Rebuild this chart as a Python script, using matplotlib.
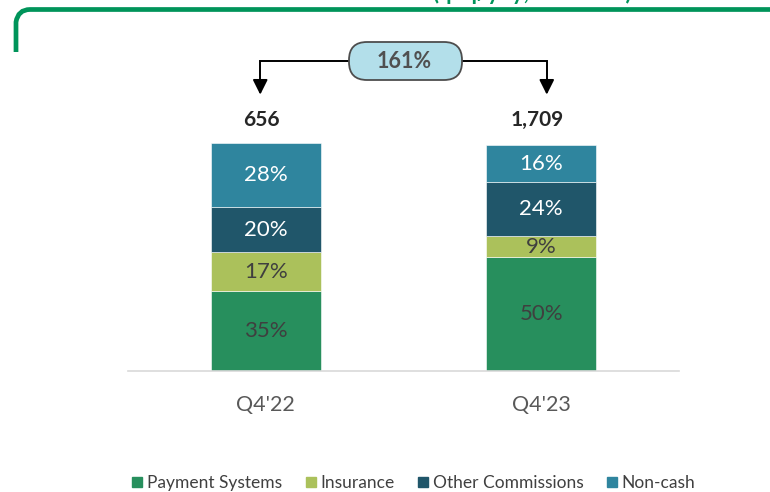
import matplotlib
matplotlib.use("Agg")
import matplotlib.pyplot as plt
from matplotlib.lines import Line2D
from matplotlib.path import Path
from matplotlib.patches import PathPatch, FancyBboxPatch

plt.rcParams['font.family'] = ['Lato', 'DejaVu Sans']

# data
periods = ["Q4'22", "Q4'23"]
totals = ["656", "1,709"]
growth = "161%"
segments = ["Payment Systems", "Insurance", "Other Commissions", "Non-cash"]
shares = {
    "Payment Systems": [35, 50],
    "Insurance": [17, 9],
    "Other Commissions": [20, 24],
    "Non-cash": [28, 16],
}
colors = {
    "Payment Systems": "#278f5d",
    "Insurance": "#abc15b",
    "Other Commissions": "#20566a",
    "Non-cash": "#2f859e",
}
label_colors = {
    "Payment Systems": "#3f3f3f",
    "Insurance": "#3f3f3f",
    "Other Commissions": "#ffffff",
    "Non-cash": "#ffffff",
}

fig = plt.figure(figsize=(7.7, 4.92), dpi=100)
ax = fig.add_axes([128 / 770, 1 - 371 / 492, 551 / 770, 228 / 492])

x = list(range(len(periods)))
bottom = [0] * len(periods)
for seg in segments:
    vals = shares[seg]
    ax.bar(x, vals, width=0.40, bottom=bottom, color=colors[seg],
           edgecolor="white", linewidth=0.4, label=seg)
    for i, v in enumerate(vals):
        ax.text(x[i], bottom[i] + v / 2, f"{v}%", ha="center", va="center",
                fontsize=16, color=label_colors[seg])
    bottom = [b + v for b, v in zip(bottom, vals)]

ax.set_xlim(-0.5, 1.5)
ax.set_ylim(0, 100)
for s in ["top", "right", "left"]:
    ax.spines[s].set_visible(False)
ax.spines["bottom"].set_color("#d9d9d9")
ax.spines["bottom"].set_linewidth(1.2)
ax.set_yticks([])
ax.set_xticks(x)
ax.set_xticklabels(periods, fontsize=15.5, color="#595959")
ax.tick_params(axis="x", length=0, pad=17)

# totals above bars
for i, t in enumerate(totals):
    ax.text(x[i] - 0.015, 110, t, ha="center", va="center", fontsize=15,
            fontweight="bold", color="#262626", clip_on=False)

# growth bracket
ax.plot([-0.02, -0.02, 1.02, 1.02], [125, 136, 136, 125], color="black",
        lw=1.4, clip_on=False, solid_joinstyle="miter")
for xi in [-0.02, 1.02]:
    ax.annotate("", xy=(xi, 120), xytext=(xi, 127),
                arrowprops=dict(arrowstyle="-|>,head_width=0.45,head_length=0.9",
                                color="black", lw=1.4),
                annotation_clip=False)

# overlay in pixel coordinates for decorations
over = fig.add_axes([0, 0, 1, 1])
over.set_xlim(0, 770)
over.set_ylim(492, 0)
over.axis("off")
over.add_patch(FancyBboxPatch((349, 42), 113, 38,
                              boxstyle="round,pad=0,rounding_size=18",
                              fc="#b3dfea", ec="#4d4d4d", lw=1.3))
over.text(404, 61.5, growth, ha="center", va="center", fontsize=15.5,
          fontweight="bold", color="#505050")

# green frame at top left with cut-off heading
verts = [(16, 52), (16, 22), (18, 9.5), (30, 9.5), (770, 9.5)]
codes = [Path.MOVETO, Path.LINETO, Path.CURVE3, Path.CURVE3, Path.LINETO]
over.add_patch(PathPatch(Path(verts, codes), fill=False, ec="#00945a", lw=3.4,
                         capstyle="butt"))
over.text(532, 0.5, "(qoq/yoy, UAH mln)", ha="center", va="baseline",
          fontsize=16, fontweight="bold", color="#00945a")

# legend
handles = [Line2D([0], [0], marker="s", linestyle="", markersize=7,
                  markerfacecolor=colors[s], markeredgecolor=colors[s])
           for s in segments]
fig.legend(handles, segments, loc="center", bbox_to_anchor=(0.535, 1 - 483 / 492),
           ncol=4, frameon=False, fontsize=12.5, handletextpad=0.05,
           handlelength=1.0, columnspacing=1.15, labelcolor="#404040")

fig.savefig("out.png", dpi=100)
